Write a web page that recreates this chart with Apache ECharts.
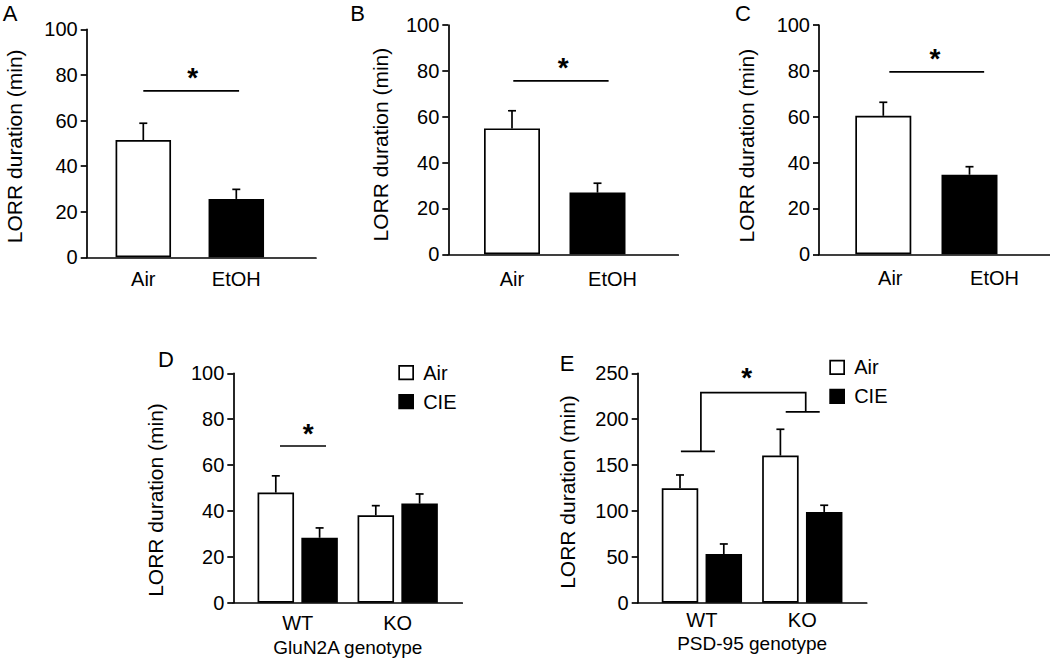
<!DOCTYPE html>
<html>
<head>
<meta charset="utf-8">
<script src="https://cdn.jsdelivr.net/npm/echarts@6/dist/echarts.min.js"></script>
<style>
html,body{margin:0;padding:0;background:#fff;}
#chart{width:1050px;height:665px;}
</style>
</head>
<body>
<div id="chart"></div>
<script>
// ---------- DATA ----------
const catsEtOH = ['Air', 'EtOH'];
const meanA = [51.4, 25.6];
const semA  = [7.4, 4.2];
const meanB = [54.9, 26.9];
const semB  = [7.7, 4.1];
const meanC = [60.4, 34.7];
const semC  = [5.9, 3.5];
const genotypes = ['WT', 'KO'];
const meanD_Air = [48.0, 38.1];
const semD_Air  = [7.3, 4.2];
const meanD_CIE = [28.3, 43.2];
const semD_CIE  = [4.3, 4.2];
const meanE_Air = [124.7, 160.3];
const semE_Air  = [14.5, 28.7];
const meanE_CIE = [53.1, 98.9];
const semE_CIE  = [10.9, 7.3];
const ticks100 = [0, 20, 40, 60, 80, 100];
const ticks250 = [0, 50, 100, 150, 200, 250];
const sigA = 73, sigB = 75.6, sigC = 79.6, sigD = 68.3;
const bracketE = [165, 229, 208]; // left foot, top bar, right foot
const seriesNames = ['Air', 'CIE'];
const yTitle = 'LORR duration (min)';
const xTitleD = 'GluN2A genotype';
const xTitleE = 'PSD-95 genotype';
const letters = ['A', 'B', 'C', 'D', 'E'];

// ---------- STYLE / LAYOUT ----------
const FONT = '"Liberation Sans", Arial, Helvetica, sans-serif';
const LW = 1.7;
const lineSt = {color: '#000', width: LW};
const FILLS = ['#ffffff', '#000000'];
const TICK_FS = 20, CAT_FS = 20, YT_FS = 21, LEG_FS = 20, XT_FS = 19, LET_FS = 22, STAR_FS = 28;

const option = {
  animation: false,
  backgroundColor: '#ffffff',
  textStyle: {fontFamily: FONT, color: '#000'},
  grid: [], xAxis: [], yAxis: [], series: [], legend: [], graphic: []
};

function errRender(offset) {
  return function (params, api) {
    const x = api.value(0), m = api.value(1), s = api.value(2);
    const b = api.coord([x, m]);
    const t = api.coord([x, m + s]);
    const cx = b[0] + offset;
    const st = {stroke: '#000', lineWidth: LW};
    return {type: 'group', children: [
      {type: 'line', shape: {x1: cx, y1: b[1], x2: cx, y2: t[1]}, style: st},
      {type: 'line', shape: {x1: cx - 4, y1: t[1], x2: cx + 4, y2: t[1]}, style: st}
    ]};
  };
}

function addPanel(p) {
  const gi = option.grid.length;
  const ticks = p.ticks;
  const yMax = ticks[ticks.length - 1];
  const yStep = ticks[1] - ticks[0];
  option.grid.push({left: p.frame[0], top: p.top, width: p.frame[1], height: p.height});
  option.grid.push({left: p.bars[0], top: p.top, width: p.bars[1], height: p.height});
  option.xAxis.push({
    type: 'value', gridIndex: gi, min: 0, max: 1,
    axisLine: {show: true, lineStyle: lineSt}, axisTick: {show: false},
    axisLabel: {show: false}, splitLine: {show: false},
    name: p.xName || '', nameLocation: 'middle', nameGap: p.xNameGap || 30,
    nameTextStyle: {fontSize: XT_FS, color: '#000', fontFamily: FONT}
  });
  option.yAxis.push({
    type: 'value', gridIndex: gi, min: 0, max: yMax, interval: yStep,
    axisLine: {show: true, lineStyle: lineSt},
    axisTick: {show: true, length: 6, lineStyle: lineSt},
    axisLabel: {fontSize: TICK_FS, color: '#000', margin: 9, fontFamily: FONT},
    splitLine: {show: false},
    name: yTitle, nameLocation: 'middle', nameRotate: 90, nameGap: p.yNameGap,
    nameTextStyle: {fontSize: YT_FS, color: '#000', fontFamily: FONT, padding: [0, p.yNamePad, 0, 0]}
  });
  option.xAxis.push({
    type: 'category', gridIndex: gi + 1,
    data: p.cats.map((c, i) => ({value: c, textStyle: {padding: [0, 0, 0, p.labelPad[i]]}})),
    axisLine: {show: false}, axisTick: {show: false},
    axisLabel: {fontSize: CAT_FS, color: '#000', margin: p.labelMargin, fontFamily: FONT}
  });
  option.yAxis.push({type: 'value', gridIndex: gi + 1, min: 0, max: yMax, show: false});
  return gi + 1;
}

function addSimpleBars(ai, means, sems, bw) {
  option.series.push({
    type: 'bar', xAxisIndex: ai, yAxisIndex: ai, barWidth: bw,
    itemStyle: {borderColor: '#000', borderWidth: LW},
    data: means.map((v, i) => ({value: v, itemStyle: {color: FILLS[i]}}))
  });
  option.series.push({
    type: 'custom', xAxisIndex: ai, yAxisIndex: ai, z: 3,
    renderItem: errRender(0),
    data: means.map((v, i) => [i, v, sems[i]])
  });
}

function addGroupedBars(ai, airM, airS, cieM, cieS, bw, gapRatio) {
  const off = (bw + bw * gapRatio) / 2;
  [[airM, airS], [cieM, cieS]].forEach((ms, k) => {
    option.series.push({
      type: 'bar', name: seriesNames[k], xAxisIndex: ai, yAxisIndex: ai,
      barWidth: bw, barGap: (gapRatio * 100) + '%',
      itemStyle: {color: FILLS[k], borderColor: '#000', borderWidth: LW},
      data: ms[0]
    });
  });
  [[airM, airS], [cieM, cieS]].forEach((ms, k) => {
    option.series.push({
      type: 'custom', xAxisIndex: ai, yAxisIndex: ai, z: 3,
      renderItem: errRender(k === 0 ? -off : off),
      data: ms[0].map((v, i) => [i, v, ms[1][i]])
    });
  });
}

function starEl(x, y) {
  return {type: 'text', style: {text: '*', x: x, y: y,
    fontSize: STAR_FS, fontWeight: 'bold', fontFamily: FONT, fill: '#000',
    align: 'center', verticalAlign: 'middle'}};
}

function addSig(ai, yVal, t0, t1, tStar) {
  option.series.push({
    type: 'custom', xAxisIndex: ai, yAxisIndex: ai, z: 3,
    renderItem: function (params, api) {
      const y = api.value(1);
      const p0 = api.coord([0, y]), p1 = api.coord([1, y]);
      const d = p1[0] - p0[0];
      return {type: 'group', children: [
        {type: 'line', shape: {x1: p0[0] + t0 * d, y1: p0[1], x2: p0[0] + t1 * d, y2: p0[1]},
         style: {stroke: '#000', lineWidth: LW}},
        starEl(p0[0] + tStar * d, p0[1] - 13)
      ]};
    },
    data: [[0, yVal]]
  });
}

function addBracket(ai, br) {
  option.series.push({
    type: 'custom', xAxisIndex: ai, yAxisIndex: ai, z: 3,
    renderItem: function (params, api) {
      const pl = api.coord([0, br[0]]);
      const pt = api.coord([0, br[1]]);
      const pr = api.coord([1, br[2]]);
      const d = pr[0] - pl[0];
      const xl = pl[0] - 0.01 * d, xr = pl[0] + 1.034 * d;
      const st = {stroke: '#000', lineWidth: LW};
      return {type: 'group', children: [
        {type: 'polyline', shape: {points: [[xl, pl[1]], [xl, pt[1]], [xr, pt[1]], [xr, pr[1]]]}, style: Object.assign({fill: null}, st)},
        {type: 'line', shape: {x1: xl - 20, y1: pl[1], x2: xl + 14, y2: pl[1]}, style: st},
        {type: 'line', shape: {x1: xr - 20, y1: pr[1], x2: xr + 14, y2: pr[1]}, style: st},
        starEl(pl[0] + 0.446 * d, pt[1] - 15)
      ]};
    },
    data: [[0, br[1]]]
  });
}

// Panel A
let ai = addPanel({frame: [86.7, 229.3], bars: [96.8, 186], top: 29.3, height: 228,
  ticks: ticks100, cats: catsEtOH, labelPad: [0, 0], labelMargin: 12, yNameGap: 62, yNamePad: 6});
addSimpleBars(ai, meanA, semA, 55.5);
addSig(ai, sigA, 0, 1.03, 0.53);

// Panel B
ai = addPanel({frame: [448.3, 230], bars: [469.25, 171], top: 25, height: 229.3,
  ticks: ticks100, cats: catsEtOH, labelPad: [0, 30], labelMargin: 15, yNameGap: 57, yNamePad: 10});
addSimpleBars(ai, meanB, semB, 56);
addSig(ai, sigB, 0.015, 1.13, 0.6);

// Panel C
ai = addPanel({frame: [819, 231], bars: [840.2, 172.4], top: 25, height: 229.3,
  ticks: ticks100, cats: catsEtOH, labelPad: [14, 50], labelMargin: 14, yNameGap: 62, yNamePad: 12});
addSimpleBars(ai, meanC, semC, 56);
addSig(ai, sigC, 0.07, 1.17, 0.6);

// Panel D
ai = addPanel({frame: [233.3, 229], bars: [247.7, 200], top: 373.3, height: 229.4,
  ticks: ticks100, cats: genotypes, labelPad: [0, 0], labelMargin: 10, yNameGap: 67, yNamePad: 24,
  xName: xTitleD, xNameGap: 35});
addGroupedBars(ai, meanD_Air, semD_Air, meanD_CIE, semD_CIE, 36.5, 0.2);
addSig(ai, sigD, -0.177, 0.283, 0.106);

// Panel E
ai = addPanel({frame: [637.7, 229], bars: [651.7, 200.8], top: 373.3, height: 229.4,
  ticks: ticks250, cats: genotypes, labelPad: [0, 0], labelMargin: 7, yNameGap: 60, yNamePad: 8,
  xName: xTitleE, xNameGap: 31});
addGroupedBars(ai, meanE_Air, semE_Air, meanE_CIE, semE_CIE, 36.5, 0.2);
addBracket(ai, bracketE);

// Legends
[[398.3, 362.7], [829.3, 357.3]].forEach(pos => {
  option.legend.push({
    left: pos[0], top: pos[1], orient: 'vertical', padding: 0,
    itemWidth: 14, itemHeight: 13.5, itemGap: 9, icon: 'rect',
    selectedMode: false, data: seriesNames,
    itemStyle: {borderColor: '#000', borderWidth: LW},
    textStyle: {fontSize: LEG_FS, color: '#000', fontFamily: FONT, padding: [0, 0, 0, 5]}
  });
});

// Panel letters
const letterPos = [[10, 13.5], [357.5, 13.5], [743, 13.5], [166, 359], [567, 363]];
letters.forEach((L, i) => {
  option.graphic.push({type: 'text', x: letterPos[i][0], y: letterPos[i][1],
    style: {text: L, fontSize: LET_FS, fontFamily: FONT, fill: '#000', align: 'center', verticalAlign: 'middle'}});
});

const chart = echarts.init(document.getElementById('chart'), null, {renderer: 'svg'});
chart.setOption(option);
</script>
</body>
</html>
